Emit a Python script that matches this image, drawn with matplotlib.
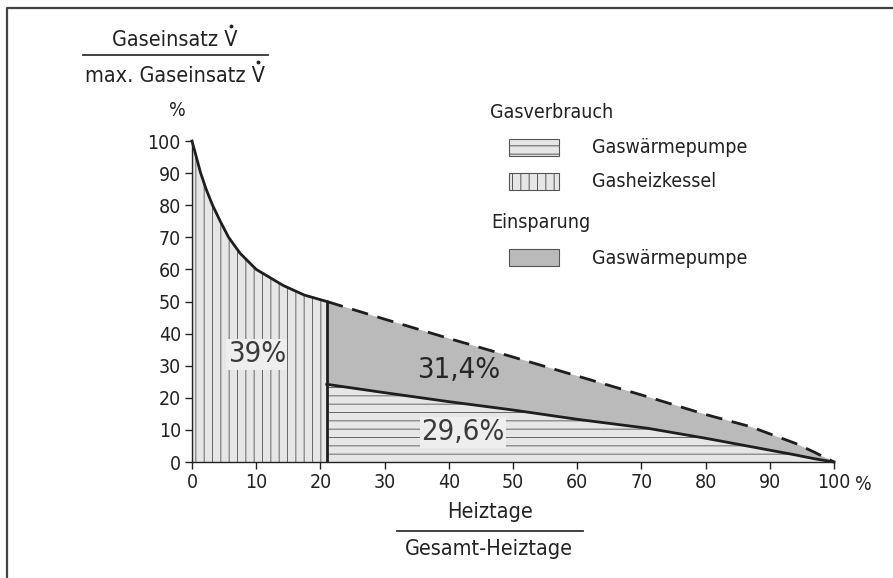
import matplotlib
matplotlib.use("Agg")
import matplotlib.pyplot as plt
from matplotlib.patches import Rectangle
from matplotlib.lines import Line2D

plt.rcParams['font.family'] = ['DejaVu Sans']
plt.rcParams['font.stretch'] = 'condensed'
plt.rcParams['hatch.linewidth'] = 0.7

# Gasheizkessel curve (0 .. 21 % heating days)
curve_x = [0, 1.35, 2.2, 3.2, 4.4, 5.7, 7.5, 10, 14.2, 17.5, 21]
curve_y = [100, 90, 85, 80, 75, 70, 65, 60, 55, 52, 50]

# right part: boiler line (dashed) and heat pump line (solid)
right_x = [21, 30, 40, 50, 60, 71, 80, 87, 94, 97, 100]
boiler_y = [50, 44.5, 38.5, 32.7, 26.8, 20.3, 14.8, 11, 5.8, 3, 0]
pump_y = [24.2, 21.6, 18.8, 16.2, 13.3, 10.5, 7.4, 4.8, 2.2, 1.0, 0]

xticks = [0, 10, 20, 30, 40, 50, 60, 70, 80, 90, 100]
yticks = [0, 10, 20, 30, 40, 50, 60, 70, 80, 90, 100]

labels_pct = ['39%', '31,4%', '29,6%']

W, H = 893, 578
fig = plt.figure(figsize=(W / 100, H / 100), dpi=100)
ax = fig.add_axes([192 / W, 1 - 462 / H, (834 - 192) / W, (462 - 141) / H])


def px(x, y):
    return x / W, 1 - y / H


light = '#e6e6e6'
mid = '#bababa'
hatch_col = '#666666'
line_col = '#1e1e1e'
txt = '#222222'
fs = 14
fs_lab = 15.5

ax.fill_between(curve_x, 0, curve_y, facecolor=light, edgecolor=hatch_col,
                hatch='||', linewidth=0)
ax.fill_between(right_x, 0, pump_y, facecolor=light, edgecolor=hatch_col,
                hatch='--', linewidth=0)
ax.fill_between(right_x, pump_y, boiler_y, facecolor=mid, linewidth=0)

ax.plot(curve_x, curve_y, color=line_col, lw=2, clip_on=False)
ax.plot(right_x, boiler_y, color=line_col, lw=2, dashes=(6, 3.5), clip_on=False)
ax.plot(right_x, pump_y, color=line_col, lw=2, clip_on=False)
ax.plot([curve_x[-1], curve_x[-1]], [0, curve_y[-1]], color=line_col, lw=2)

ax.text(10.1, 33.6, labels_pct[0], fontsize=21, color='#3a3a3a', ha='center', va='center',
        bbox=dict(facecolor='#eeeeee', edgecolor='none', pad=1))
ax.text(41.6, 28.7, labels_pct[1], fontsize=21, color='#262626', ha='center', va='center')
ax.text(42.2, 9.3, labels_pct[2], fontsize=21, color='#3a3a3a', ha='center', va='center',
        bbox=dict(facecolor='#eeeeee', edgecolor='none', pad=1))

ax.set_xlim(0, 100)
ax.set_ylim(0, 100)
for s in ['top', 'right']:
    ax.spines[s].set_visible(False)
for s in ['left', 'bottom']:
    ax.spines[s].set_linewidth(1.0)
    ax.spines[s].set_color('#222222')
ax.set_xticks(xticks)
ax.set_xticklabels([str(v) for v in xticks])
ax.set_yticks(yticks)
ax.set_yticklabels([str(v) for v in yticks])
ax.tick_params(length=5, width=1, color='#222222', labelsize=fs, labelcolor=txt, pad=3)
ax.set_facecolor('none')

# percent markers next to axes
ax.annotate('%', xy=(100, 0), xytext=(29, -22), textcoords='offset pixels',
            ha='center', va='center', fontsize=fs, color=txt, annotation_clip=False)
fig.text(*px(177, 111), '%', ha='center', va='center', fontsize=fs, color=txt)

# y label as fraction (V with dot above drawn separately)
t1 = fig.text(*px(175, 46), 'Gaseinsatz V', ha='center', va='baseline', fontsize=fs_lab, color=txt)
fig.add_artist(Line2D([83 / W, 268 / W], [1 - 55 / H, 1 - 55 / H], color='#333333', lw=1.3))
t2 = fig.text(*px(175, 82), 'max. Gaseinsatz V', ha='center', va='baseline', fontsize=fs_lab, color=txt)

renderer = fig.canvas.get_renderer()
tv = fig.text(0, 0, 'V', fontsize=fs_lab)
v_w = tv.get_window_extent(renderer).width
tv.remove()
cap = fs_lab * 100 / 72 * 0.73
for t, base in [(t1, 46), (t2, 82)]:
    bb = t.get_window_extent(renderer)
    xd = bb.x1 - v_w / 2 - 0.5
    yd = H - base + cap + 4.5
    fig.add_artist(Line2D([xd / W], [yd / H], marker='o', markersize=1.8,
                          color=txt, linestyle='none'))

# x label as fraction
fig.text(*px(490, 512), 'Heiztage', ha='center', va='center', fontsize=fs_lab, color=txt)
fig.add_artist(Line2D([397 / W, 583 / W], [1 - 531 / H, 1 - 531 / H], color='#333333', lw=1.3))
fig.text(*px(489, 549), 'Gesamt-Heiztage', ha='center', va='center', fontsize=fs_lab, color=txt)

# legend
fig.text(*px(490, 112), 'Gasverbrauch', ha='left', va='center', fontsize=fs, color=txt)
fig.text(*px(491, 222), 'Einsparung', ha='left', va='center', fontsize=fs, color=txt)
legend_rows = [
    (139, light, '--', 'Gaswärmepumpe'),
    (173, light, '||', 'Gasheizkessel'),
    (249, mid, None, 'Gaswärmepumpe'),
]
for top, fc, hatch, name in legend_rows:
    x0, y0 = px(509, top + 17)
    r = Rectangle((x0, y0), 50 / W, 17 / H, transform=fig.transFigure,
                  facecolor=fc, edgecolor='#555555', hatch=hatch, linewidth=0.8)
    fig.add_artist(r)
    fig.text(*px(592, top + 9), name, ha='left', va='center', fontsize=fs, color=txt)

# outer frame (open to the right and bottom)
fig.add_artist(Line2D([7 / W, 7 / W, 1.0], [0.0, 1 - 8 / H, 1 - 8 / H], color='#444444', lw=1.6))

fig.savefig('out.png', dpi=100)
